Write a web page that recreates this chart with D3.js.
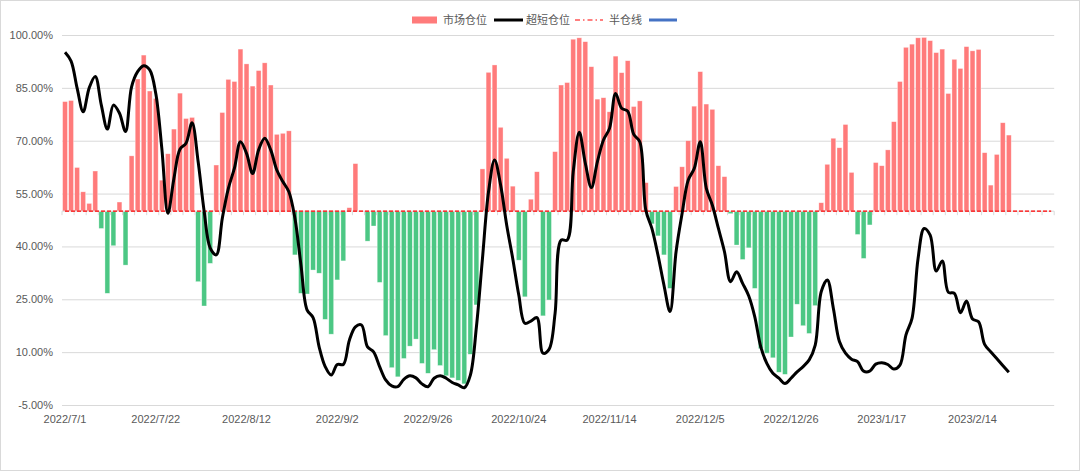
<!DOCTYPE html>
<html>
<head>
<meta charset="utf-8">
<script src="https://cdn.jsdelivr.net/npm/d3@7"></script>
<style>
  body { margin: 0; background: #fff; }
  svg { display: block; font-family: Lato, "Noto Sans", sans-serif; }
</style>
</head>
<body>
<svg width="1080" height="471"></svg>
<script>
// trading days on the category axis
var dates = [
  "2022/7/1","2022/7/4","2022/7/5","2022/7/6","2022/7/7","2022/7/8","2022/7/11","2022/7/12","2022/7/13","2022/7/14","2022/7/15",
  "2022/7/18","2022/7/19","2022/7/20","2022/7/21","2022/7/22","2022/7/25","2022/7/26","2022/7/27","2022/7/28","2022/7/29",
  "2022/8/1","2022/8/2","2022/8/3","2022/8/4","2022/8/5","2022/8/8","2022/8/9","2022/8/10","2022/8/11","2022/8/12",
  "2022/8/15","2022/8/16","2022/8/17","2022/8/18","2022/8/19","2022/8/22","2022/8/23","2022/8/24","2022/8/25","2022/8/26",
  "2022/8/29","2022/8/30","2022/8/31",
  "2022/9/1","2022/9/2","2022/9/5","2022/9/6","2022/9/7","2022/9/8","2022/9/9","2022/9/13","2022/9/14","2022/9/15","2022/9/16",
  "2022/9/19","2022/9/20","2022/9/21","2022/9/22","2022/9/23","2022/9/26","2022/9/27","2022/9/28","2022/9/29","2022/9/30",
  "2022/10/10","2022/10/11","2022/10/12","2022/10/13","2022/10/14","2022/10/17","2022/10/18","2022/10/19","2022/10/20","2022/10/21",
  "2022/10/24","2022/10/25","2022/10/26","2022/10/27","2022/10/28","2022/10/31",
  "2022/11/1","2022/11/2","2022/11/3","2022/11/4","2022/11/7","2022/11/8","2022/11/9","2022/11/10","2022/11/11",
  "2022/11/14","2022/11/15","2022/11/16","2022/11/17","2022/11/18","2022/11/21","2022/11/22","2022/11/23","2022/11/24","2022/11/25",
  "2022/11/28","2022/11/29","2022/11/30",
  "2022/12/1","2022/12/2","2022/12/5","2022/12/6","2022/12/7","2022/12/8","2022/12/9","2022/12/12","2022/12/13","2022/12/14","2022/12/15","2022/12/16",
  "2022/12/19","2022/12/20","2022/12/21","2022/12/22","2022/12/23","2022/12/26","2022/12/27","2022/12/28","2022/12/29","2022/12/30",
  "2023/1/3","2023/1/4","2023/1/5","2023/1/6","2023/1/9","2023/1/10","2023/1/11","2023/1/12","2023/1/13",
  "2023/1/16","2023/1/17","2023/1/18","2023/1/19","2023/1/20","2023/1/30","2023/1/31",
  "2023/2/1","2023/2/2","2023/2/3","2023/2/6","2023/2/7","2023/2/8","2023/2/9","2023/2/10","2023/2/13","2023/2/14","2023/2/15","2023/2/16","2023/2/17",
  "2023/2/20","2023/2/21","2023/2/22","2023/2/23","2023/2/24","2023/2/27","2023/2/28",
  "2023/3/1","2023/3/2","2023/3/3"
];

var xLabels = ["2022/7/1","2022/7/22","2022/8/12","2022/9/2","2022/9/26","2022/10/24","2022/11/14","2022/12/5","2022/12/26","2023/1/17","2023/2/14"];
var yTicks = [-5, 10, 25, 40, 55, 70, 85, 100];

// 市场仓位 (%), one per trading day from 2022/7/1
var market = [
  81.1,81.4,62.4,55.5,52.2,61.4,45.1,26.7,40.2,52.6,34.7,65.7,87.5,94.3,84.1,82.0,58.8,66.3,73.3,83.5,
  76.3,76.6,30.0,23.1,35.2,63.1,78.0,87.4,86.8,96.0,91.8,85.5,89.9,92.1,85.8,71.8,72.1,72.8,37.6,26.7,
  26.5,33.3,32.4,19.3,15.1,30.5,35.9,51.0,63.5,50.0,41.5,45.8,29.8,14.7,5.6,3.0,8.2,11.7,13.7,6.8,
  4.0,10.7,6.2,3.3,2.7,2.0,1.0,9.4,23.4,62.0,89.4,91.5,73.8,65.0,57.1,36.1,25.7,53.4,61.2,20.3,
  24.8,66.9,85.8,86.5,98.8,99.2,98.1,91.0,81.8,82.2,78.2,94.0,89.3,92.7,79.7,81.3,58.1,46.4,43.0,37.6,
  28.1,57.0,62.6,70.0,79.8,89.6,80.4,78.9,62.9,59.8,49.3,40.4,36.3,39.6,28.1,11.0,9.7,8.4,4.3,3.7,
  14.3,23.6,17.5,15.3,23.2,52.4,63.3,70.7,68.0,74.6,61.0,43.4,36.6,46.1,63.8,62.9,67.4,75.4,86.8,96.5,
  97.4,99.2,99.3,98.4,95.0,96.0,83.4,93.1,90.5,96.7,95.5,95.9,66.6,57.4,66.1,75.1,71.6
];

// 超短仓位 (%)
var shortPos = [
  95.1,92.6,84.9,78.2,85.0,88.2,80.1,73.3,80.1,77.8,72.6,85.3,89.6,91.3,90.1,83.4,67.8,49.4,59.3,67.6,
  69.3,75.1,64.1,49.9,39.5,37.6,48.0,56.5,62.2,69.7,66.4,60.7,67.4,70.7,67.4,61.7,58.4,55.5,48.0,34.7,
  22.0,19.8,11.5,5.9,3.5,6.5,6.5,13.4,17.2,17.7,11.5,10.1,5.9,2.1,0.4,0.2,2.3,3.3,2.7,1.0,
  0.2,2.6,3.3,2.6,1.4,0.7,-0.1,3.5,17.2,36.6,55.5,64.5,57.4,46.1,36.6,26.2,18.2,18.8,19.8,9.7,
  10.8,21.0,41.8,41.8,61.2,72.4,63.6,56.7,64.1,70.2,73.5,83.4,79.2,78.4,71.8,69.7,50.3,45.1,37.6,29.0,
  21.5,38.5,49.4,58.8,62.1,69.7,56.5,51.7,45.1,38.5,30.0,32.8,29.5,26.0,20.1,11.5,6.8,4.0,2.6,1.1,
  2.6,4.4,5.9,7.8,12.0,27.2,30.5,22.4,13.0,9.7,8.0,7.3,4.6,4.6,6.6,7.0,6.5,5.2,6.3,14.9,
  19.6,36.6,45.1,43.2,33.0,35.9,27.0,26.7,21.2,24.5,19.4,18.6,12.2,10.1,8.2,6.2,4.3
];

// 半仓线
var halfLine = 50;

var legendNames = ["市场仓位", "超短仓位", "半仓线", ""];

var svg = d3.select("svg"),
    width = +svg.attr("width"),
    height = +svg.attr("height");

var plotLeft = 62, plotRight = 1054.2, plotTop = 35, plotBottom = 405;

// outer frame
svg.append("rect")
    .attr("x", 0.5).attr("y", 0.5)
    .attr("width", width - 1).attr("height", height - 1)
    .attr("fill", "#fff").attr("stroke", "#d9d9d9");

var x = d3.scaleBand()
    .domain(dates)
    .range([plotLeft, plotRight])
    .paddingInner(0.2)
    .paddingOuter(0.1);
var cx = function(d){ return x(d) + x.bandwidth() / 2; };

var y = d3.scaleLinear().domain([-5, 100]).range([plotBottom, plotTop]);

// y axis + gridlines
var yAxis = svg.append("g")
    .attr("transform", "translate(" + plotLeft + ",0)")
    .call(d3.axisLeft(y)
        .tickValues(yTicks)
        .tickSize(-(plotRight - plotLeft))
        .tickPadding(9)
        .tickFormat(function(d){ return d.toFixed(2) + "%"; }));
yAxis.select(".domain").remove();
yAxis.selectAll("line").attr("stroke", "#d9d9d9");
yAxis.selectAll("text").attr("fill", "#595959").style("font-size", "11px");

// x axis labels at bottom
var xAxis = svg.append("g")
    .attr("transform", "translate(0," + plotBottom + ")")
    .call(d3.axisBottom(x).tickValues(xLabels).tickSize(0).tickPadding(10));
xAxis.select(".domain").remove();
xAxis.selectAll("text").attr("fill", "#595959").style("font-size", "11px");

// bars from the half-position line
svg.append("g")
    .selectAll("rect")
    .data(market)
    .enter()
    .append("rect")
      .attr("x", function(d, i){ return x(dates[i]); })
      .attr("width", x.bandwidth())
      .attr("y", function(d){ return y(Math.max(d, halfLine)); })
      .attr("height", function(d){ return Math.abs(y(d) - y(halfLine)); })
      .attr("fill", function(d){ return d >= halfLine ? "#ff7b7b" : "#4cc784"; })
      .attr("stroke", "rgba(255,255,255,0.55)")
      .attr("stroke-width", 0.6);

// category axis line at 50% with small ticks every two days
svg.append("line")
    .attr("x1", plotLeft).attr("x2", plotRight)
    .attr("y1", y(halfLine)).attr("y2", y(halfLine))
    .attr("stroke", "#d9d9d9");
svg.append("g")
    .selectAll("line")
    .data(d3.range(0, dates.length + 1, 2))
    .enter()
    .append("line")
      .attr("x1", function(k){ return plotLeft + k * x.step(); })
      .attr("x2", function(k){ return plotLeft + k * x.step(); })
      .attr("y1", y(halfLine))
      .attr("y2", y(halfLine) + 4)
      .attr("stroke", "#d9d9d9");

// 半仓线
svg.append("path")
    .datum(dates)
    .attr("fill", "none")
    .attr("stroke", "#ff0000")
    .attr("stroke-width", 1.2)
    .attr("stroke-dasharray", "4,2")
    .attr("d", d3.line()
        .x(function(d){ return cx(d); })
        .y(function(){ return y(halfLine); }));

// 超短仓位
svg.append("path")
    .datum(shortPos)
    .attr("fill", "none")
    .attr("stroke", "#000")
    .attr("stroke-width", 3)
    .attr("stroke-linejoin", "round")
    .attr("d", d3.line()
        .x(function(d, i){ return cx(dates[i]); })
        .y(function(d){ return y(d); })
        .curve(d3.curveCatmullRom.alpha(0.5)));

// legend
var lg = svg.append("g").style("font-family", "'Noto Sans CJK SC', sans-serif").style("font-size", "11px");
lg.append("rect").attr("x", 412).attr("y", 16.5).attr("width", 25).attr("height", 7).attr("fill", "#ff7b7b");
lg.append("text").attr("x", 443).attr("y", 24).attr("fill", "#595959").text(legendNames[0]);
lg.append("line").attr("x1", 494).attr("x2", 523).attr("y1", 20).attr("y2", 20).attr("stroke", "#000").attr("stroke-width", 3);
lg.append("text").attr("x", 526).attr("y", 24).attr("fill", "#595959").text(legendNames[1]);
lg.append("line").attr("x1", 575).attr("x2", 603).attr("y1", 20).attr("y2", 20)
    .attr("stroke", "#ff0000").attr("stroke-width", 1.2).attr("stroke-dasharray", "5,3,1.5,3");
lg.append("text").attr("x", 609).attr("y", 24).attr("fill", "#595959").text(legendNames[2]);
lg.append("line").attr("x1", 649).attr("x2", 677).attr("y1", 20).attr("y2", 20).attr("stroke", "#4472c4").attr("stroke-width", 3);
</script>
</body>
</html>
